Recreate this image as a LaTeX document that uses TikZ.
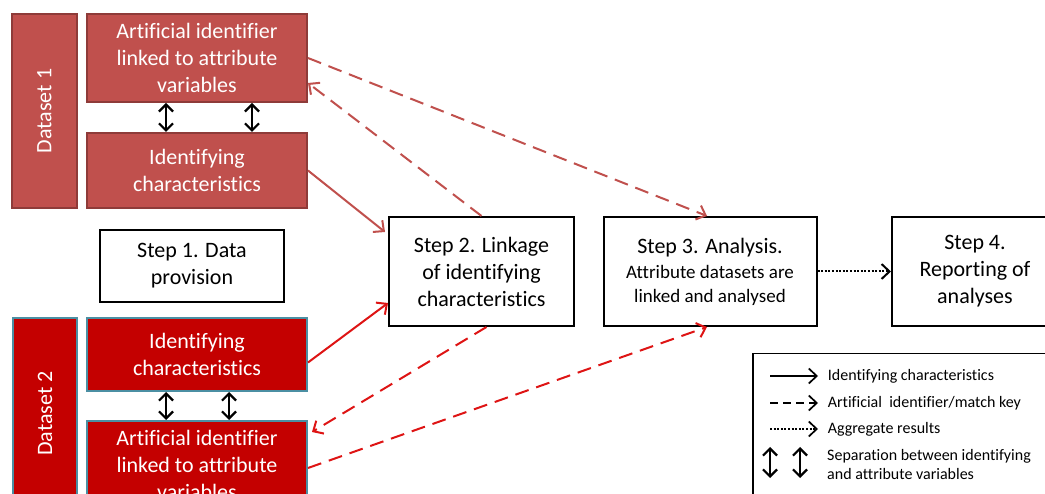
\documentclass[tikz,border=0pt]{standalone}
\usepackage{fontspec}
\setmainfont[Ligatures={NoCommon}]{Carlito}
\usetikzlibrary{arrows.meta}
\definecolor{rotA}{HTML}{C0504D}
\definecolor{randA}{HTML}{8E3B39}
\definecolor{rotB}{HTML}{C40000}
\definecolor{randB}{HTML}{4B8FA3}
\definecolor{pfeilB}{HTML}{DE1414}
\tikzset{
  schritt/.style={draw=black,line width=2pt,fill=white,align=center,minimum height=109pt,font=\fontsize{22}{27}\selectfont},
  satzA/.style={draw=randA,line width=2pt,fill=rotA,text=white,align=center,font=\fontsize{22}{27}\selectfont},
  satzB/.style={draw=randB,line width=2pt,fill=rotB,text=white,align=center,font=\fontsize{22}{27}\selectfont},
  trenn/.style={black,line width=2.2pt,{Straight Barb[length=7pt,width=14pt]}-{Straight Barb[length=7pt,width=14pt]}},
  spitze/.style={-{Straight Barb[length=8pt,width=15pt]}},
  strich/.style={dash pattern=on 14pt off 8pt},
  punkte/.style={dash pattern=on 2pt off 1.6pt},
  legtext/.style={anchor=west,align=left,inner sep=0pt,font=\fontsize{16}{19}\selectfont}
}
\begin{document}
\begin{tikzpicture}[x=1pt,y=-1pt]
\useasboundingbox (0,0) rectangle (1045,494);
\clip (0,0) rectangle (1045,494);

% Datensatz 1
\node[satzA,rotate=90,minimum width=194pt,minimum height=65pt] (ds1) at (44.5,111) {Dataset 1};
\node[satzA,minimum width=220pt,minimum height=88pt] (aid1) at (197,58) {Artificial identifier\\linked to attribute\\variables};
\node[satzA,minimum width=220pt,minimum height=75pt] (idc1) at (197,170.5) {Identifying\\characteristics};
\draw[trenn] ([xshift=-31pt]aid1.south) -- ([xshift=-31pt]idc1.north);
\draw[trenn] ([xshift=55pt]aid1.south) -- ([xshift=55pt]idc1.north);

% Schritt 1
\node[draw=black,line width=2pt,align=center,minimum width=184pt,minimum height=72pt,font=\fontsize{22}{27}\selectfont] (st1) at (192,266) {Step 1. Data\\provision};

% Datensatz 2
\node[satzB,rotate=90,minimum width=191pt,minimum height=64pt] (ds2) at (45,413.5) {Dataset 2};
\node[satzB,minimum width=220pt,minimum height=73pt] (idc2) at (197,354.5) {Identifying\\characteristics};
\node[satzB,minimum width=220pt,minimum height=88pt] (aid2) at (197,465) {Artificial identifier\\linked to attribute\\variables};
\draw[trenn] ([xshift=-31pt]idc2.south) -- ([xshift=-31pt]aid2.north);
\draw[trenn] ([xshift=32pt]idc2.south) -- ([xshift=32pt]aid2.north);

% Schritte 2 bis 4
\node[schritt,minimum width=185pt] (st2) at (481.5,271.5) {Step 2. Linkage\\of identifying\\characteristics};
\node[schritt,minimum width=213pt] (st3) at (710,271.5) {Step 3. Analysis.\\[-2pt]{\fontsize{19}{22}\selectfont Attribute datasets are}\\[-3pt]{\fontsize{19}{22}\selectfont linked and analysed}};
\node[schritt,minimum width=166pt] (st4) at (975,271.5) {Step 4.\\Reporting of\\analyses};
\draw[black,line width=2pt,punkte,spitze] (st3.east) -- (st4.west);

% Pfeile Datensatz 1
\draw[rotA,line width=2pt,strich,spitze] (aid1.east) -- ([xshift=-3pt]st3.north);
\draw[rotA,line width=2pt,strich,spitze] (st2.north) -- ([yshift=-25pt]aid1.east);
\draw[rotA,line width=2pt,spitze] (idc1.east) -- ([xshift=-3pt,yshift=-16pt]st2.north west);

% Pfeile Datensatz 2
\draw[pfeilB,line width=2pt,spitze] ([yshift=-8pt]idc2.east) -- ([yshift=24pt]st2.south west);
\draw[pfeilB,line width=2pt,strich,spitze] ([xshift=5pt]st2.south) -- ([xshift=4pt,yshift=-12pt]aid2.north east);
\draw[pfeilB,line width=2pt,strich,spitze] ([yshift=-3pt]aid2.east) -- ([xshift=-3pt]st3.south);

% Legende
\node[draw=black,line width=1.5pt,minimum width=310pt,minimum height=160pt,anchor=north west] (leg) at (752,353) {};
\coordinate (l1) at (770,376);
\coordinate (l2) at (770,403);
\coordinate (l3) at (770,429);
\draw[black,line width=1.7pt,spitze] (l1) -- ++(48,0) node[legtext,xshift=9pt] (t1) {Identifying characteristics};
\draw[black,line width=1.7pt,dash pattern=on 8pt off 5pt,spitze] (l2) -- ++(48,0) node[legtext,xshift=9pt] (t2) {Artificial~ identifier/match key};
\draw[black,line width=1.7pt,punkte,spitze] (l3) -- ++(48,0) node[legtext,xshift=9pt] (t3) {Aggregate results};
\draw[trenn] (770,447) -- (770,478);
\draw[trenn] (800,447) -- (800,478);
\node[legtext] (t4) at (827,465) {Separation between identifying\\and attribute variables};
\end{tikzpicture}
\end{document}
